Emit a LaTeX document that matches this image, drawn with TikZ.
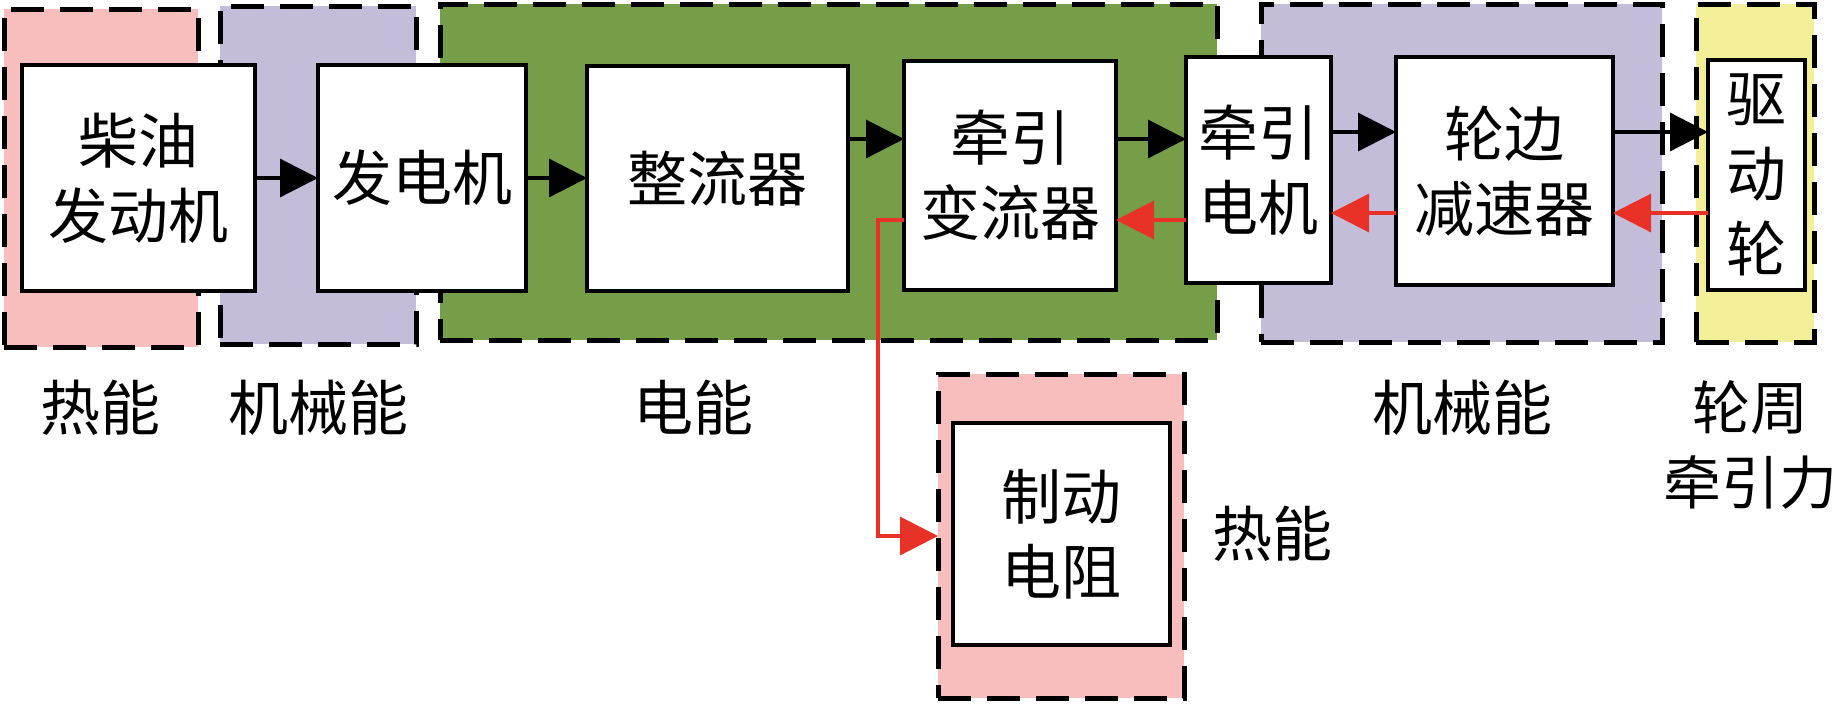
\documentclass[tikz,border=0pt]{standalone}
\usepackage{fontspec}
\setmainfont{Noto Sans CJK SC}
\usetikzlibrary{arrows.meta}
\definecolor{zpink}{RGB}{248,190,190}
\definecolor{zpurple}{RGB}{196,189,218}
\definecolor{zgreen}{RGB}{118,158,72}
\definecolor{zyellow}{RGB}{243,238,152}
\definecolor{ared}{RGB}{232,50,40}
\begin{document}
\begin{tikzpicture}[x=0.5pt,y=-0.5pt,
  zone/.style={draw=black, line width=2.5pt, dash pattern=on 16.5pt off 8pt, inner sep=0pt, outer sep=0pt, rectangle},
  blk/.style={draw=black, fill=white, line width=2.2pt, align=center, inner sep=0pt, outer sep=0pt, rectangle, font=\fontsize{30pt}{37.5pt}\selectfont},
  lbl/.style={align=center, inner sep=0pt, font=\fontsize{30pt}{37.5pt}\selectfont},
  fw/.style={line width=1.6pt, draw=black, -{Triangle[length=19pt,width=19pt]}},
  bw/.style={line width=1.6pt, color=ared, -{Triangle[length=19pt,width=19pt]}}]
\useasboundingbox (0,0) rectangle (1840,719);

% energy zones
\node[zone, fill=zpink,   minimum width=97pt,    minimum height=169pt] (z1) at (101,178) {};
\node[zone, fill=zpurple, minimum width=98pt,    minimum height=169pt] (z2) at (318,175) {};
\node[zone, fill=zgreen,  minimum width=388.5pt, minimum height=168pt] (z3) at (828.5,172) {};
\node[zone, fill=zpurple, minimum width=200.5pt, minimum height=169pt] (z4) at (1461.5,173) {};
\node[zone, fill=zyellow, minimum width=59pt,    minimum height=169pt] (z5) at (1755,173) {};
\node[zone, fill=zpink,   minimum width=123pt,   minimum height=162pt] (z6) at (1061,536) {};

% blocks
\node[blk, minimum width=116.5pt, minimum height=113pt]   (diesel) at (138.5,178)  {柴油\\发动机};
\node[blk, minimum width=104pt,   minimum height=113pt]   (gen)    at (422,178)    {发电机};
\node[blk, minimum width=130.5pt, minimum height=112.5pt] (rect)   at (717.5,178.5){整流器};
\node[blk, minimum width=106pt,   minimum height=114.5pt] (conv)   at (1010,175.5) {牵引\\变流器};
\node[blk, minimum width=72.5pt,  minimum height=113pt]   (motor)  at (1258.5,170) {牵引\\电机};
\node[blk, minimum width=108.5pt, minimum height=114pt]   (red)    at (1504.5,171) {轮边\\减速器};
\node[blk, minimum width=48.5pt,  minimum height=115pt]   (wheel)  at (1756.5,175) {驱\\动\\轮};
\node[blk, minimum width=108.5pt, minimum height=111pt]   (brake)  at (1061.5,534) {制动\\电阻};

% labels
\node[lbl] (l1) at (100,408)  {热能};
\node[lbl] (l2) at (318,408)  {机械能};
\node[lbl] (l3) at (693,408)  {电能};
\node[lbl] (l4) at (1462,408) {机械能};
\node[lbl, font=\fontsize{29pt}{37.5pt}\selectfont] (l5) at (1750,445) {轮周\\牵引力};
\node[lbl] (l6) at (1272,534) {热能};

% traction flow (black)
\draw[fw] (diesel.east) -- (diesel.east -| gen.west);
\draw[fw] (gen.east) -- (gen.east -| rect.west);
\draw[fw] ([yshift=19.75pt]rect.east) -- ([yshift=19.75pt]rect.east -| conv.west);
\draw[fw] ([yshift=18.25pt]conv.east) -- ([yshift=18.25pt]conv.east -| motor.west);
\draw[fw] ([yshift=19pt]motor.east) -- ([yshift=19pt]motor.east -| red.west);
\draw[fw] ([yshift=19.5pt]red.east) -- ([yshift=19.5pt]red.east -| wheel.west);

% braking flow (red)
\draw[bw] ([yshift=-19pt]wheel.west) -- ([yshift=-19pt]wheel.west -| red.east);
\draw[bw] ([yshift=-21pt]red.west) -- ([yshift=-21pt]red.west -| motor.east);
\draw[bw] ([yshift=-25pt]motor.west) -- ([yshift=-25pt]motor.west -| conv.east);
\draw[bw] ([yshift=-22.25pt]conv.west) -- ++(-26,0) |- (z6.west);
\end{tikzpicture}
\end{document}
